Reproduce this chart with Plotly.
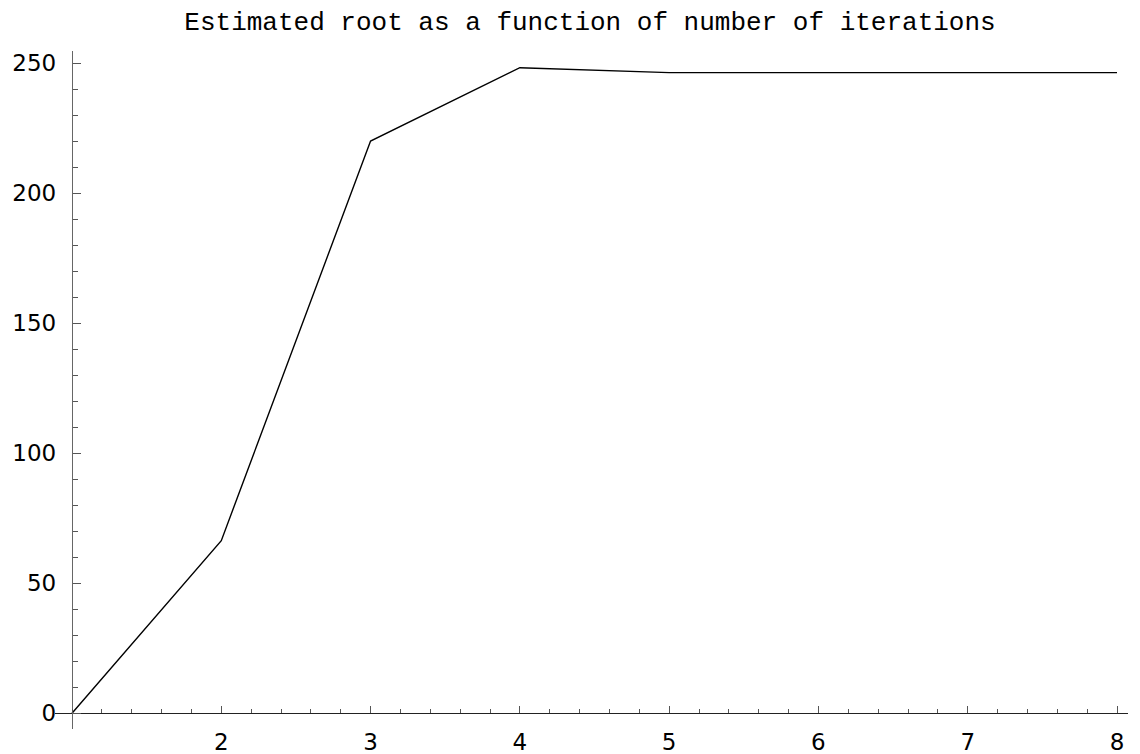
import plotly.graph_objects as go

iterations = [1, 2, 3, 4, 5, 6, 7, 8]
estimated_root = [0, 66.4, 220.1, 248.3, 246.4, 246.4, 246.4, 246.4]
x_tick_vals = [2, 3, 4, 5, 6, 7, 8]
y_tick_vals = [0, 50, 100, 150, 200, 250]

# page body has an 8px margin; figure is offset accordingly
OFF = 8
W, H = 1140 - OFF, 754 - OFF
L, R, T, B = 55 - OFF, 12, 51 - OFF, 25
xmin, xmax = 0.8861, 8.0737
ymin, ymax = -6.04, 254.73

fig = go.Figure()
fig.add_trace(go.Scatter(x=iterations, y=estimated_root, mode="lines",
                         line=dict(color="black", width=1.4), hoverinfo="skip"))

xpos = (0 - ymin) / (ymax - ymin)
ypos = (1 - xmin) / (xmax - xmin)

fig.update_layout(
    width=W, height=H,
    margin=dict(l=L, r=R, t=T, b=B),
    plot_bgcolor="white", paper_bgcolor="white",
    showlegend=False,
    title=dict(text="Estimated root as a function of number of iterations",
               font=dict(family="Liberation Mono", size=26, color="black"),
               x=(590 - OFF) / W, xref="container", xanchor="center",
               y=1 - (21 - OFF) / H, yref="container", yanchor="middle"),
    xaxis=dict(range=[xmin, xmax], showgrid=False, zeroline=False,
               showline=True, linecolor="#222", linewidth=1.3,
               anchor="free", position=xpos,
               tickmode="array", tickvals=x_tick_vals,
               ticks="inside", ticklen=7, tickwidth=1, tickcolor="#555",
               minor=dict(ticks="inside", ticklen=4, tick0=1, dtick=0.2,
                          tickcolor="#555", tickwidth=1, showgrid=False),
               tickfont=dict(family="DejaVu Sans", size=23, color="black"),
               ticklabelstandoff=8, automargin=False),
    yaxis=dict(range=[ymin, ymax], showgrid=False, zeroline=False,
               showline=True, linecolor="#666", linewidth=1.3,
               anchor="free", position=ypos,
               tickmode="array", tickvals=y_tick_vals,
               ticks="inside", ticklen=8, tickwidth=1, tickcolor="#555",
               minor=dict(ticks="inside", ticklen=5, tick0=0, dtick=10,
                          tickcolor="#555", tickwidth=1, showgrid=False),
               tickfont=dict(family="DejaVu Sans", size=23, color="black"),
               ticklabelstandoff=11, automargin=False),
)

fig.write_html("out.html")
